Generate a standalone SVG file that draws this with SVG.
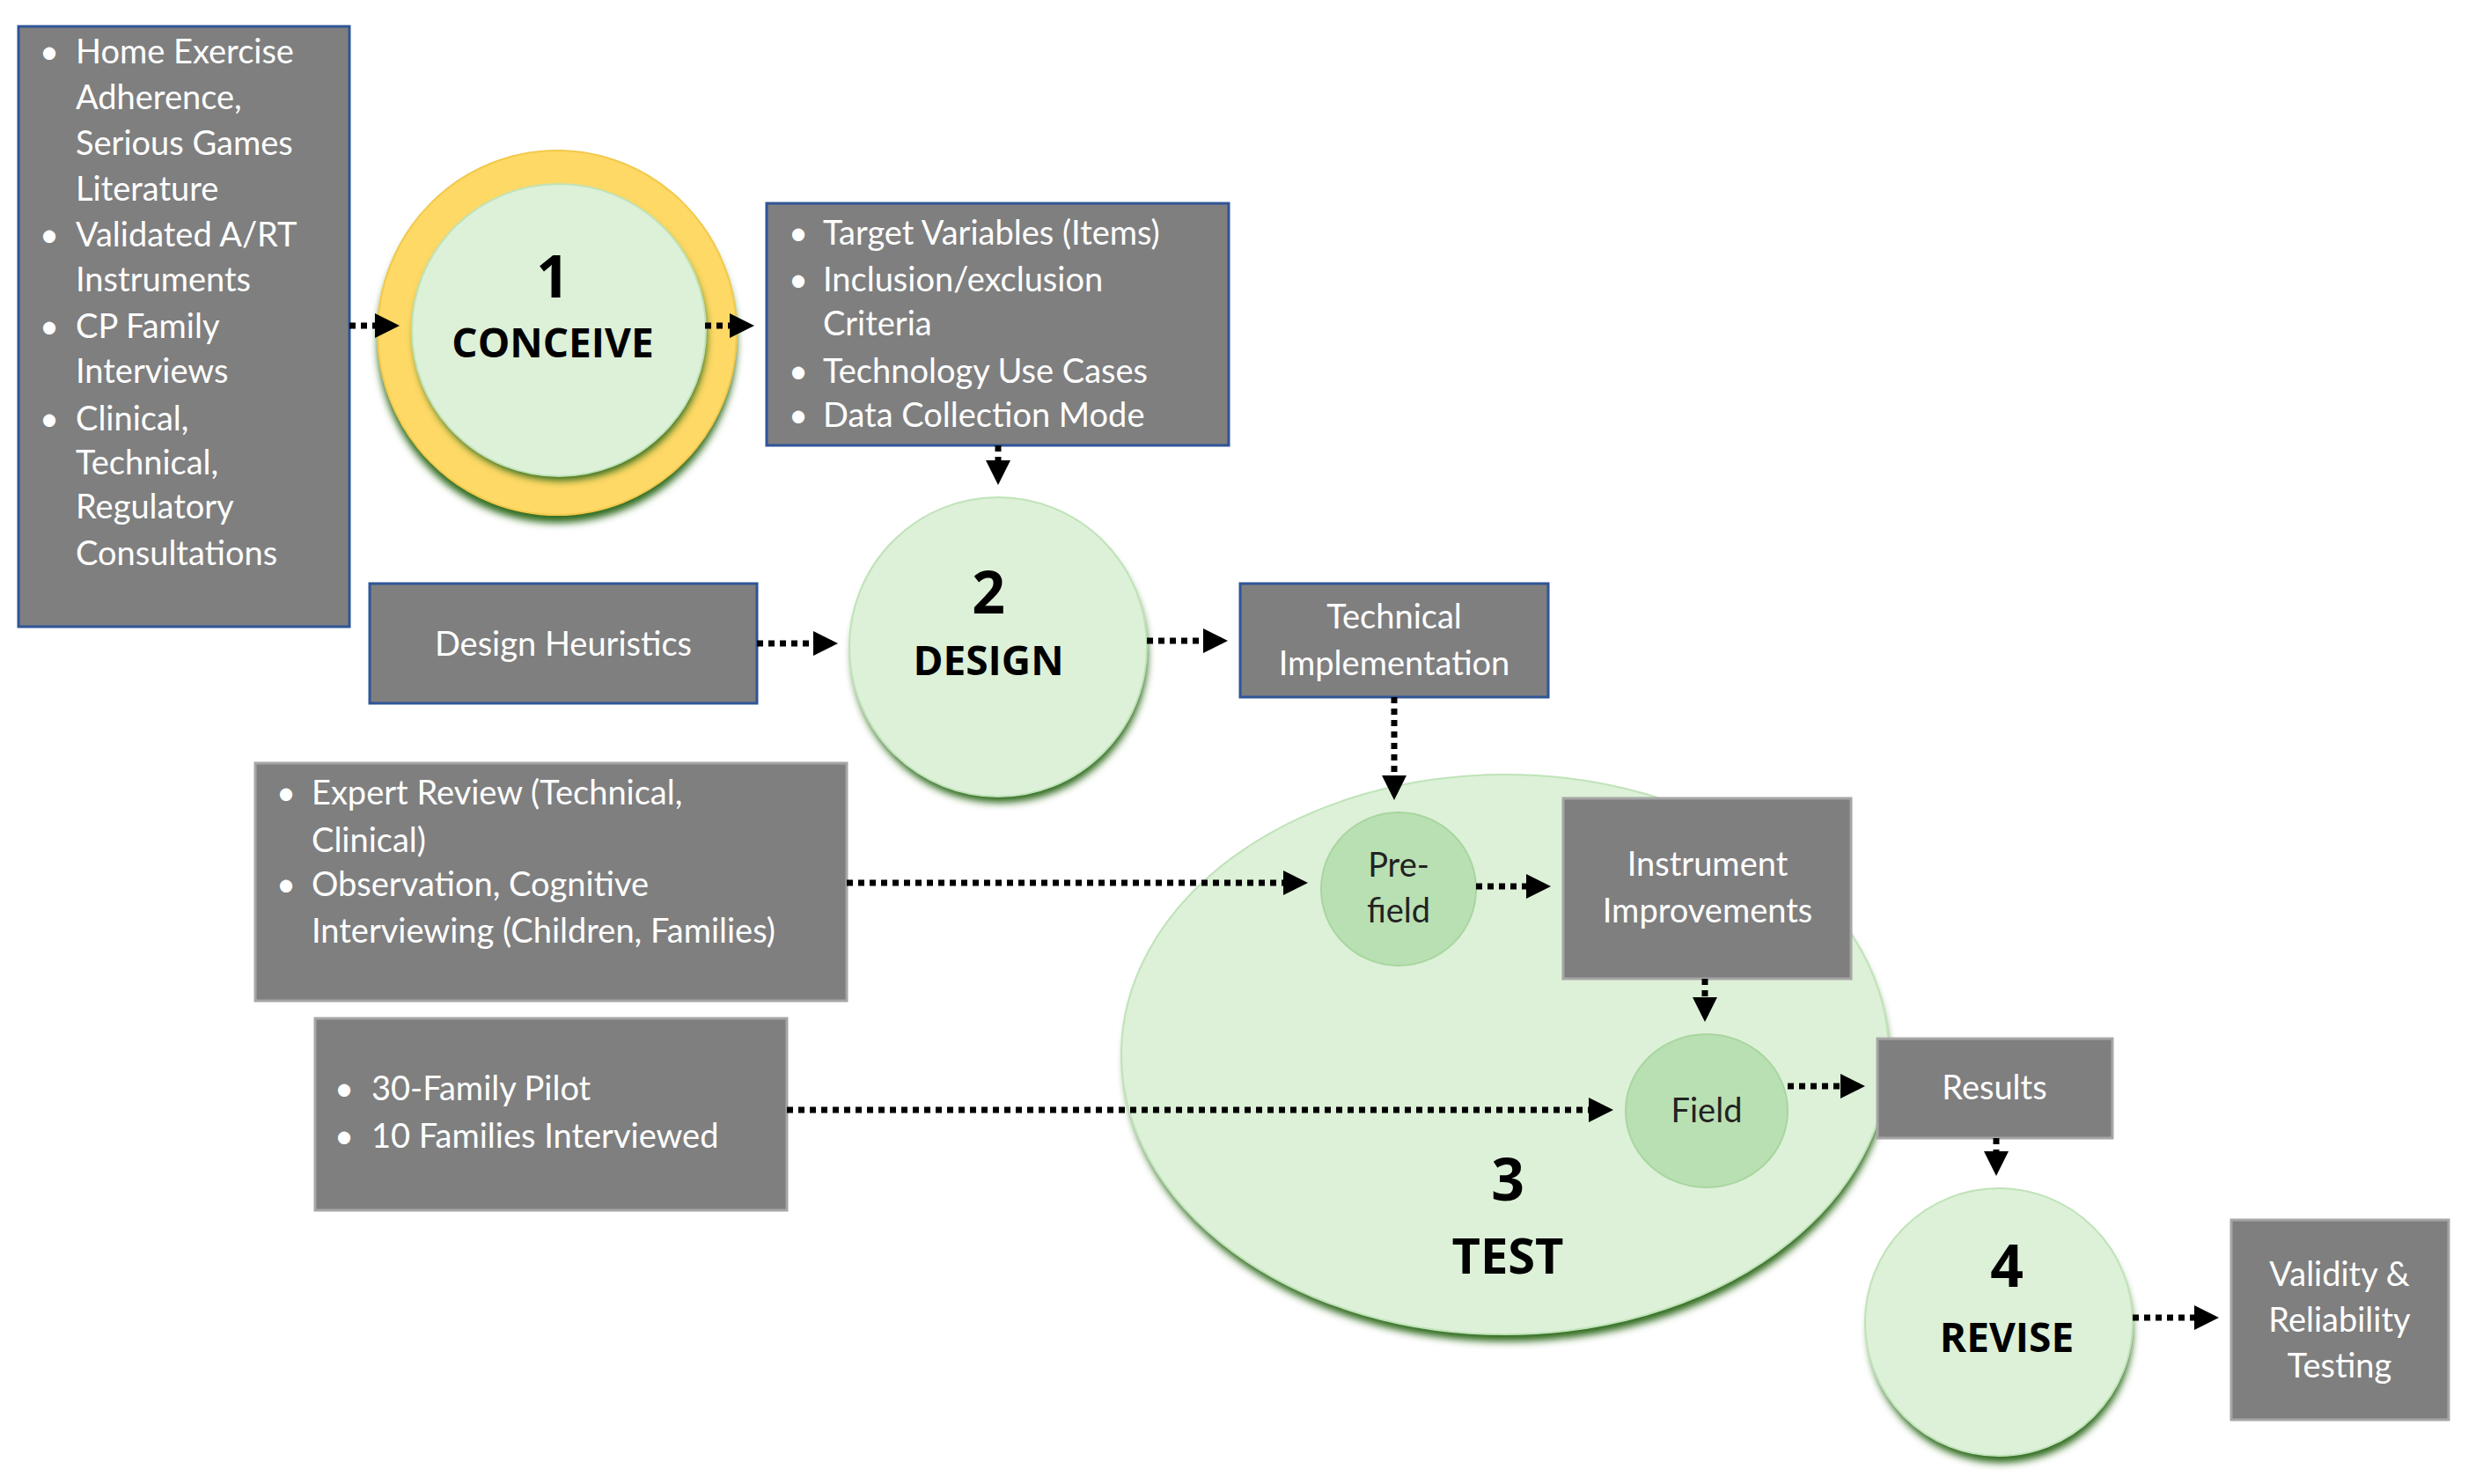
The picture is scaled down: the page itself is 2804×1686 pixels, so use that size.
<svg xmlns="http://www.w3.org/2000/svg" width="2804" height="1686" viewBox="0 0 2804 1686">
<style>
.box{fill:#7f7f7f;stroke:#2f5597;stroke-width:3}
.box2{fill:#7f7f7f;stroke:#a6a6a6;stroke-width:3}
.t{font-family:Lato,"Open Sans",sans-serif;font-size:38px;fill:#ffffff}
.c{fill:#ddf0d8;stroke:#bfe3b8;stroke-width:2}
.sh{fill:#2e6b1a;filter:url(#blur)}
.sub{fill:#b9e0b3;stroke:#a8d69f;stroke-width:2}
.lab{font-family:"Open Sans",Lato,sans-serif;font-weight:bold;fill:#000;text-anchor:middle}
.n{font-size:66px}.w{font-size:46px}
.sl{font-family:Lato,"Open Sans",sans-serif;font-size:38px;fill:#222;text-anchor:middle}
.cn{stroke:#000;stroke-width:7;stroke-dasharray:7 6;fill:none;marker-end:url(#ah)}
</style>
<defs>
<filter id="blur" x="-20%" y="-20%" width="140%" height="140%"><feGaussianBlur stdDeviation="4"/></filter>
<marker id="ah" markerWidth="4" markerHeight="4" refX="3" refY="2" orient="auto" markerUnits="strokeWidth"><path d="M0,0 L4,2 L0,4 z" fill="#000"/></marker>
</defs>
<rect width="2804" height="1686" fill="#fff"/>

<g id="box-sources">
<rect class="box" x="21" y="30" width="376" height="682"/>
<g class="t">
<text x="45" y="72">•</text><text x="86" y="72">Home Exercise</text>
<text x="86" y="124">Adherence,</text>
<text x="86" y="176">Serious Games</text>
<text x="86" y="228">Literature</text>
<text x="45" y="280">•</text><text x="86" y="280">Validated A/RT</text>
<text x="86" y="331">Instruments</text>
<text x="45" y="384">•</text><text x="86" y="384">CP Family</text>
<text x="86" y="435">Interviews</text>
<text x="45" y="489">•</text><text x="86" y="489">Clinical,</text>
<text x="86" y="539">Technical,</text>
<text x="86" y="589">Regulatory</text>
<text x="86" y="642">Consultations</text>
</g>
</g>

<g id="conceive">
<ellipse class="sh" cx="633" cy="388" rx="204" ry="206"/>
<ellipse cx="633" cy="378" rx="204" ry="207" fill="#ffd966" stroke="#f2c94c" stroke-width="2"/>
<ellipse class="sh" cx="637" cy="382" rx="166" ry="164"/>
<ellipse class="c" cx="635" cy="375" rx="167" ry="166"/>
<text class="lab n" x="628" y="338">1</text>
<text class="lab w" x="628" y="406">CONCEIVE</text>
</g>

<g id="box-variables">
<rect class="box" x="871" y="231" width="525" height="275"/>
<g class="t">
<text x="896" y="278">•</text><text x="935" y="278">Target Variables (Items)</text>
<text x="896" y="331">•</text><text x="935" y="331">Inclusion/exclusion</text>
<text x="935" y="381">Criteria</text>
<text x="896" y="435">•</text><text x="935" y="435">Technology Use Cases</text>
<text x="896" y="485">•</text><text x="935" y="485">Data Collection Mode</text>
</g>
</g>

<g id="design">
<ellipse class="sh" cx="1136" cy="744" rx="168" ry="168"/>
<ellipse class="c" cx="1134" cy="735" rx="169" ry="170"/>
<text class="lab n" x="1123" y="697">2</text>
<text class="lab w" x="1123" y="767">DESIGN</text>
</g>

<g id="box-heuristics">
<rect class="box" x="420" y="663" width="440" height="136"/>
<text class="t" x="640" y="745" text-anchor="middle">Design Heuristics</text>
</g>

<g id="box-techimpl">
<rect class="box" x="1409" y="663" width="350" height="129"/>
<text class="t" x="1584" y="714" text-anchor="middle">Technical</text>
<text class="t" x="1584" y="767" text-anchor="middle">Implementation</text>
</g>

<g id="box-expert">
<rect class="box2" x="290" y="867" width="672" height="270"/>
<g class="t">
<text x="314" y="914">•</text><text x="354" y="914">Expert Review (Technical,</text>
<text x="354" y="968">Clinical)</text>
<text x="314" y="1018">•</text><text x="354" y="1018">Observation, Cognitive</text>
<text x="354" y="1071">Interviewing (Children, Families)</text>
</g>
</g>

<g id="test">
<ellipse class="sh" cx="1712" cy="1208" rx="434" ry="316"/>
<ellipse class="c" cx="1710" cy="1198" rx="436" ry="318"/>
<text class="lab n" x="1713" y="1364">3</text>
<text class="lab w" x="1713" y="1447" style="font-size:56px">TEST</text>
</g>

<g id="prefield">
<ellipse class="sub" cx="1589" cy="1010" rx="88" ry="87"/>
<text class="sl" x="1589" y="996">Pre-</text>
<text class="sl" x="1589" y="1048">field</text>
</g>

<g id="box-instrument">
<rect class="box2" x="1776" y="907" width="327" height="205"/>
<text class="t" x="1940" y="995" text-anchor="middle">Instrument</text>
<text class="t" x="1940" y="1048" text-anchor="middle">Improvements</text>
</g>

<g id="field">
<ellipse class="sub" cx="1939" cy="1262" rx="92" ry="87"/>
<text class="sl" x="1939" y="1275">Field</text>
</g>

<g id="box-pilot">
<rect class="box2" x="358" y="1157" width="536" height="218"/>
<g class="t">
<text x="380" y="1250">•</text><text x="422" y="1250">30-Family Pilot</text>
<text x="380" y="1304">•</text><text x="422" y="1304">10 Families Interviewed</text>
</g>
</g>

<g id="box-results">
<rect class="box2" x="2133" y="1180" width="267" height="113"/>
<text class="t" x="2266" y="1249" text-anchor="middle">Results</text>
</g>

<g id="revise">
<ellipse class="sh" cx="2273" cy="1512" rx="150" ry="150"/>
<ellipse class="c" cx="2271" cy="1502" rx="152" ry="152"/>
<text class="lab n" x="2280" y="1462">4</text>
<text class="lab w" x="2280" y="1536">REVISE</text>
</g>

<g id="box-validity">
<rect class="box2" x="2535" y="1386" width="247" height="227"/>
<text class="t" x="2658" y="1461" text-anchor="middle">Validity &amp;</text>
<text class="t" x="2658" y="1513" text-anchor="middle">Reliability</text>
<text class="t" x="2658" y="1565" text-anchor="middle">Testing</text>
</g>

<g id="connectors">
<line class="cn" x1="397" y1="370" x2="447" y2="370"/>
<line class="cn" x1="801" y1="370" x2="850" y2="370"/>
<line class="cn" x1="1134" y1="506" x2="1134" y2="544"/>
<line class="cn" x1="860" y1="731" x2="945" y2="731"/>
<line class="cn" x1="1303" y1="728" x2="1388" y2="728"/>
<line class="cn" x1="1584" y1="792" x2="1584" y2="902"/>
<line class="cn" x1="962" y1="1003" x2="1479" y2="1003"/>
<line class="cn" x1="1677" y1="1007" x2="1755" y2="1007"/>
<line class="cn" x1="1937" y1="1112" x2="1937" y2="1154"/>
<line class="cn" x1="894" y1="1261" x2="1826" y2="1261"/>
<line class="cn" x1="2031" y1="1234" x2="2112" y2="1234"/>
<line class="cn" x1="2268" y1="1293" x2="2268" y2="1329"/>
<line class="cn" x1="2423" y1="1497" x2="2514" y2="1497"/>
</g>
</svg>
